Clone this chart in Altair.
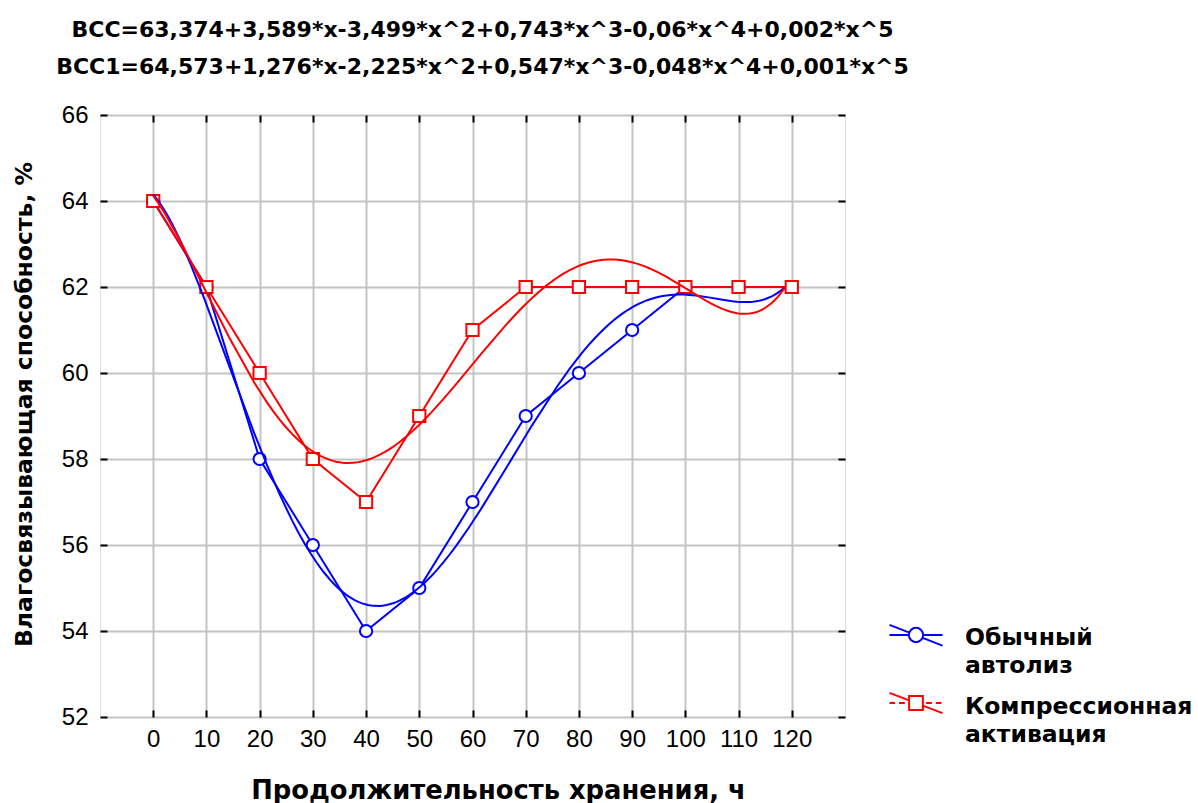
import altair as alt
import pandas as pd

# ---- data ----
HOURS = [0, 10, 20, 30, 40, 50, 60, 70, 80, 90, 100, 110, 120]
SERIES = ["Обычный автолиз", "Компрессионная активация"]
VCC_NORMAL = [64, 62, 58, 56, 54, 55, 57, 59, 60, 61, 62, 62, 62]
VCC_COMPRESSION = [64, 62, 60, 58, 57, 59, 61, 62, 62, 62, 62, 62, 62]
X_TICKS = [0, 10, 20, 30, 40, 50, 60, 70, 80, 90, 100, 110, 120]
Y_TICKS = [52, 54, 56, 58, 60, 62, 64, 66]
TITLE_LINES = [
    "ВСС=63,374+3,589*x-3,499*x^2+0,743*x^3-0,06*x^4+0,002*x^5",
    "ВСС1=64,573+1,276*x-2,225*x^2+0,547*x^3-0,048*x^4+0,001*x^5",
]
X_TITLE = "Продолжительность хранения, ч"
Y_TITLE = "Влагосвязывающая способность, %"
LEGEND_LINES = [["Обычный", "автолиз"], ["Компрессионная", "активация"]]

COLORS = ["#0000ff", "#ff0000"]
SHAPES = ["circle", "square"]

df = pd.DataFrame({
    "hours": HOURS + HOURS,
    "value": VCC_NORMAL + VCC_COMPRESSION,
    "series": [SERIES[0]] * len(HOURS) + [SERIES[1]] * len(HOURS),
})

W, H = 745, 602
PAD = {"left": 100, "top": 115, "right": 1198 - 100 - W, "bottom": 803 - 115 - H}

TITLE_FONT = "DejaVu Sans"
LABEL_FONT = "Liberation Sans"

xs = alt.Scale(domain=[-10, 130], nice=False, zero=False)
ys = alt.Scale(domain=[52, 66], nice=False, zero=False)
stroke_scale = alt.Scale(domain=SERIES, range=COLORS)
shape_scale = alt.Scale(domain=SERIES, range=SHAPES)

common_axis = dict(offset=-7, tickSize=7, tickWidth=2, tickColor="black", domain=False)

x_bottom = alt.Axis(orient="bottom", values=X_TICKS, grid=True, gridColor="#c4c4c4", gridWidth=2,
                    labelFont=LABEL_FONT, labelFontSize=24, labelColor="black", labelPadding=10,
                    title=X_TITLE, titleFont=TITLE_FONT, titleFontSize=25.8, titleFontWeight="bold",
                    titleColor="black", titleX=398, titleY=80, titleAlign="center",
                    titleBaseline="middle", **common_axis)
y_left = alt.Axis(orient="left", values=Y_TICKS, grid=True, gridColor="#c4c4c4", gridWidth=2,
                  labelFont=LABEL_FONT, labelFontSize=24, labelColor="black", labelPadding=12,
                  title=Y_TITLE, titleFont=TITLE_FONT, titleFontSize=23.5, titleFontWeight="bold",
                  titleColor="black", titleX=-83, titleY=289, titleAngle=270, titleAlign="center",
                  titleBaseline="middle", **common_axis)
x_top = alt.Axis(orient="top", values=X_TICKS, grid=False, labels=False, title="", **common_axis)
y_right = alt.Axis(orient="right", values=Y_TICKS, grid=False, labels=False, title="", **common_axis)

base = alt.Chart(df)

connect = base.mark_line(strokeWidth=2).encode(
    x=alt.X("hours:Q", scale=xs, axis=x_bottom),
    y=alt.Y("value:Q", scale=ys, axis=y_left),
    stroke=alt.Stroke("series:N", scale=stroke_scale, legend=None),
    detail="series:N",
)

points = base.mark_point(filled=True, fill="white", strokeWidth=2, size=150, opacity=1).encode(
    x=alt.X("hours:Q", scale=xs, axis=None),
    y=alt.Y("value:Q", scale=ys, axis=None),
    stroke=alt.Stroke("series:N", scale=stroke_scale, legend=None),
    shape=alt.Shape("series:N", scale=shape_scale, legend=None),
)

fit = base.transform_regression(
    "hours", "value", groupby=["series"], method="poly", order=5, extent=[0, 118.6]
).mark_line(strokeWidth=2).encode(
    x=alt.X("hours:Q", scale=xs, axis=x_top),
    y=alt.Y("value:Q", scale=ys, axis=y_right),
    stroke=alt.Stroke("series:N", scale=stroke_scale, legend=None),
    detail="series:N",
)

# ---- legend (drawn beside the plot) ----
PATH_BLUE = ("M-1,0 L-0.27,0 M0.27,0 L1,0 "
             "M-1,-0.38 L-0.25,-0.09 M0.25,0.11 L1,0.4 "
             "M-0.27,0 A0.27,0.27 0 1,0 0.27,0 A0.27,0.27 0 1,0 -0.27,0")
PATH_RED = ("M-1,0 L-0.79,0 M-0.64,0 L-0.42,0 M0.38,0 L0.6,0 M0.75,0 L0.96,0 "
            "M-1,-0.38 L-0.26,-0.1 M0.26,0.1 L1,0.38 "
            "M-0.26,-0.26 L0.26,-0.26 L0.26,0.26 L-0.26,0.26 Z")
SYM_SIZE = 2809

leg_layers = []
for i, (path, ysym, ytxt) in enumerate([(PATH_BLUE, 520, 530), (PATH_RED, 588, 599)]):
    ldf = pd.DataFrame({"series": [SERIES[i]]})
    sym = alt.Chart(ldf).mark_point(shape=path, size=SYM_SIZE, filled=False, stroke=COLORS[i],
                                    strokeWidth=2, opacity=1).encode(
        x=alt.value(816), y=alt.value(ysym))
    txt = alt.Chart(ldf).mark_text(text=LEGEND_LINES[i], font=TITLE_FONT, fontSize=23.5,
                                   fontWeight="bold", align="left", baseline="alphabetic",
                                   lineHeight=28, color="black").encode(
        x=alt.value(865), y=alt.value(ytxt))
    leg_layers += [sym, txt]

chart = alt.layer(connect, points, fit, *leg_layers).resolve_axis(
    x="independent", y="independent"
).properties(
    width=W, height=H,
    autosize=alt.AutoSizeParams(type="none"),
    padding=PAD,
    title=alt.TitleParams(text=TITLE_LINES, font=TITLE_FONT, fontSize=22, fontWeight="bold",
                          color="black", lineHeight=37, anchor="middle", dx=10, offset=24),
).configure_view(stroke="black", strokeWidth=2).configure(background="white")

chart.save("out.html", embed_options={"renderer": "svg", "actions": False})
